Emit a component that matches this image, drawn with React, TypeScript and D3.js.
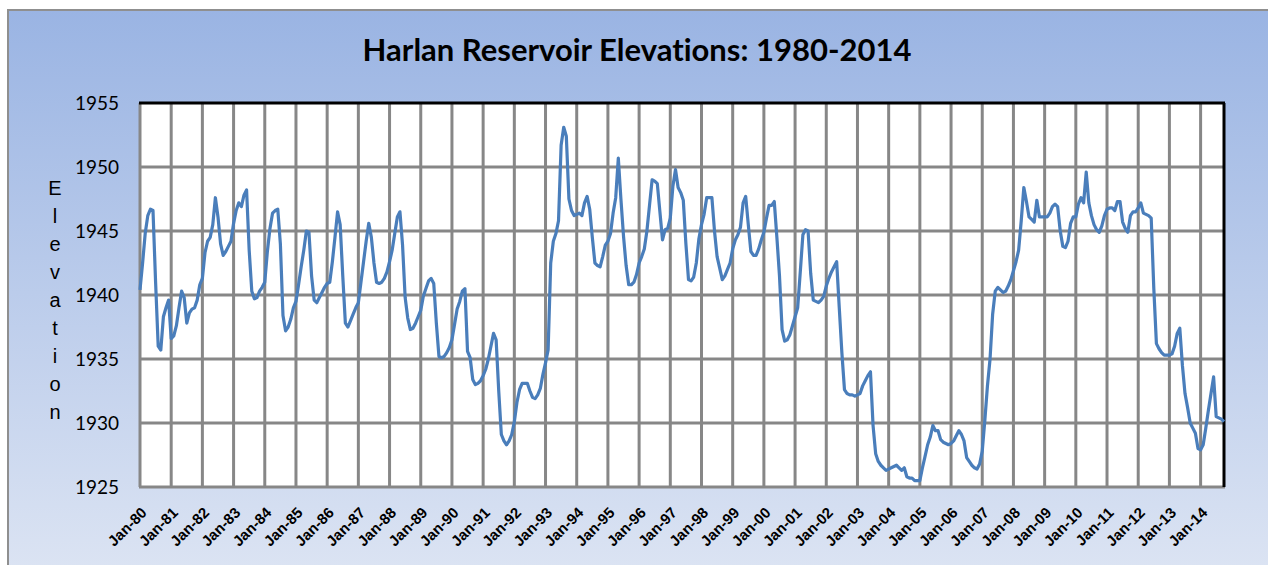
import { useEffect } from 'react';
import * as d3 from 'd3';

// monthly elevations (ft), Jan of first year through the last reading
const elev1980s = [
  1940.4, 1942.5, 1944.8, 1946.2, 1946.7, 1946.6, 1941.0, 1936.0, 1935.7, 1938.3, 1939.0, 1939.6,
  1936.6, 1936.8, 1937.6, 1939.0, 1940.3, 1939.8, 1937.8, 1938.6, 1938.9, 1939.0, 1939.6, 1940.8,
  1941.3, 1943.3, 1944.2, 1944.5, 1945.5, 1947.6, 1946.1, 1944.0, 1943.1, 1943.4, 1943.8, 1944.2,
  1945.6, 1946.6, 1947.2, 1946.9, 1947.8, 1948.2, 1943.5, 1940.3, 1939.7, 1939.8, 1940.3, 1940.6,
  1941.0, 1943.4, 1945.2, 1946.4, 1946.6, 1946.7, 1944.0, 1938.4, 1937.2, 1937.5, 1938.1, 1939.0,
  1939.5, 1940.8, 1942.2, 1943.5, 1945.0, 1944.9, 1941.5, 1939.6, 1939.4, 1939.8, 1940.2, 1940.6,
  1940.9, 1941.0, 1942.6, 1944.5, 1946.5, 1945.5, 1941.5, 1937.8, 1937.5, 1938.0, 1938.5, 1939.0,
  1939.4, 1941.0, 1942.6, 1944.2, 1945.6, 1944.5, 1942.5, 1941.0, 1940.9, 1941.0, 1941.3, 1941.8,
  1942.6, 1943.5, 1944.8, 1946.1, 1946.5, 1943.9, 1939.8, 1938.2, 1937.3, 1937.4, 1937.8, 1938.3,
  1938.8, 1939.9, 1940.5, 1941.1, 1941.3, 1940.9, 1937.8, 1935.2, 1935.1, 1935.2, 1935.5, 1935.9,
];

const elev1990s = [
  1936.5, 1937.7, 1938.9, 1939.5, 1940.3, 1940.5, 1935.6, 1935.1, 1933.4, 1933.0, 1933.1, 1933.3,
  1933.7, 1934.2, 1935.0, 1936.0, 1937.0, 1936.5, 1932.5, 1929.1, 1928.6, 1928.3, 1928.6, 1929.1,
  1930.1, 1931.6, 1932.6, 1933.1, 1933.1, 1933.1, 1932.5, 1932.0, 1931.9, 1932.2, 1932.7, 1933.8,
  1934.7, 1935.7, 1942.5, 1944.2, 1944.8, 1945.8, 1951.7, 1953.1, 1952.4, 1947.5, 1946.6, 1946.2,
  1946.3, 1946.4, 1946.2, 1947.2, 1947.7, 1946.7, 1944.5, 1942.5, 1942.3, 1942.2, 1943.0, 1943.9,
  1944.2, 1944.8, 1946.4, 1947.6, 1950.7, 1947.5, 1944.6, 1942.3, 1940.8, 1940.8, 1941.0, 1941.6,
  1942.5, 1943.0, 1943.6, 1945.0, 1947.0, 1949.0, 1948.9, 1948.7, 1946.5, 1944.3, 1945.1, 1945.2,
  1946.0, 1948.5, 1949.8, 1948.4, 1948.0, 1947.4, 1944.0, 1941.2, 1941.1, 1941.4, 1942.5, 1944.4,
  1945.5, 1946.3, 1947.6, 1947.6, 1947.6, 1945.0, 1943.0, 1942.1, 1941.2, 1941.5, 1942.0, 1942.5,
  1943.6, 1944.3, 1944.7, 1945.3, 1947.2, 1947.7, 1945.5, 1943.4, 1943.1, 1943.1, 1943.6, 1944.3,
];

const elev2000s = [
  1944.9, 1946.0, 1947.0, 1947.0, 1947.3, 1944.5, 1941.5, 1937.3, 1936.4, 1936.5, 1936.9, 1937.6,
  1938.3, 1939.0, 1941.8, 1944.7, 1945.1, 1945.0, 1941.7, 1939.6, 1939.5, 1939.4, 1939.6, 1939.9,
  1940.7, 1941.3, 1941.8, 1942.2, 1942.6, 1939.0, 1935.5, 1932.6, 1932.3, 1932.2, 1932.2, 1932.1,
  1932.2, 1932.3, 1932.9, 1933.3, 1933.7, 1934.0, 1929.8, 1927.6, 1927.0, 1926.7, 1926.5, 1926.3,
  1926.4, 1926.5, 1926.6, 1926.7, 1926.5, 1926.3, 1926.5, 1925.8, 1925.7, 1925.7, 1925.5, 1925.5,
  1925.5, 1926.5, 1927.4, 1928.3, 1928.9, 1929.8, 1929.4, 1929.4, 1928.7, 1928.5, 1928.4, 1928.3,
  1928.4, 1928.6, 1929.0, 1929.4, 1929.1, 1928.6, 1927.3, 1927.0, 1926.7, 1926.5, 1926.4, 1926.8,
  1927.8, 1930.2, 1932.9, 1935.0, 1938.5, 1940.3, 1940.6, 1940.4, 1940.2, 1940.3, 1940.7, 1941.2,
  1941.9, 1942.6, 1943.5, 1945.8, 1948.4, 1947.3, 1946.1, 1945.9, 1945.7, 1947.4, 1946.1, 1946.1,
  1946.1, 1946.1, 1946.4, 1946.9, 1947.1, 1946.9, 1945.0, 1943.8, 1943.7, 1944.2, 1945.6, 1946.1,
];

const elev2010s = [
  1946.1, 1947.1, 1947.6, 1947.2, 1949.6, 1947.2, 1946.2, 1945.5, 1945.1, 1944.9, 1945.4, 1946.2,
  1946.7, 1946.8, 1946.8, 1946.6, 1947.3, 1947.3, 1945.7, 1945.2, 1944.9, 1946.2, 1946.5, 1946.5,
  1946.8, 1947.2, 1946.4, 1946.3, 1946.2, 1946.0, 1940.5, 1936.2, 1935.8, 1935.5, 1935.3, 1935.3,
  1935.3, 1935.4, 1936.0, 1937.0, 1937.4, 1934.5, 1932.3, 1931.2, 1930.0, 1929.6, 1929.2, 1928.0,
  1927.9, 1928.3, 1929.6, 1931.0, 1932.3, 1933.6, 1930.5, 1930.4, 1930.3, 1930.1,
];

const yearLabels = [
  'Jan-80', 'Jan-81', 'Jan-82', 'Jan-83', 'Jan-84', 'Jan-85', 'Jan-86', 'Jan-87', 'Jan-88', 'Jan-89',
  'Jan-90', 'Jan-91', 'Jan-92', 'Jan-93', 'Jan-94', 'Jan-95', 'Jan-96', 'Jan-97', 'Jan-98', 'Jan-99',
  'Jan-00', 'Jan-01', 'Jan-02', 'Jan-03', 'Jan-04', 'Jan-05', 'Jan-06', 'Jan-07', 'Jan-08', 'Jan-09',
  'Jan-10', 'Jan-11', 'Jan-12', 'Jan-13', 'Jan-14',
];

const yTicks = [1925, 1930, 1935, 1940, 1945, 1950, 1955];
const axisTitle = 'Elevation';

const W = 1268;
const H = 565;
const plot = { left: 140, right: 1224, top: 103, bottom: 487 };
const gridColor = '#878787';

export default function App() {
  useEffect(() => {
    document.body.style.margin = '0';
  }, []);

  const values = [...elev1980s, ...elev1990s, ...elev2000s, ...elev2010s];
  const x = d3.scaleLinear().domain([0, values.length - 1]).range([plot.left, plot.right]);
  const y = d3.scaleLinear().domain([1925, 1955]).range([plot.bottom, plot.top]);
  const line = d3.line<number>().x((_, i) => x(i)).y((d) => y(d));

  return (
    <svg width={W} height={H} style={{ display: 'block' }}>
      <defs>
        <linearGradient id="bg" x1="0" y1="0" x2="0" y2="1">
          <stop offset="0%" stopColor="#9ab4e3" />
          <stop offset="100%" stopColor="#dce4f3" />
        </linearGradient>
      </defs>
      <rect x={0} y={0} width={W} height={H} fill="#ffffff" />
      <rect x={8} y={10} width={W} height={H} fill="url(#bg)" stroke="#8f8f8f" strokeWidth={2} />

      <text
        x={637}
        y={61}
        textAnchor="middle"
        fontFamily="Lato, 'Liberation Sans', sans-serif"
        fontWeight="bold"
        fontSize={31}
        fill="#000"
        style={{ fontVariantLigatures: 'none' }}
      >
        Harlan Reservoir Elevations: 1980-2014
      </text>

      <rect
        x={plot.left}
        y={plot.top}
        width={plot.right - plot.left}
        height={plot.bottom - plot.top}
        fill="#ffffff"
      />

      {/* horizontal grid */}
      {yTicks.slice(1, -1).map((t) => (
        <line key={t} x1={plot.left} x2={plot.right} y1={y(t)} y2={y(t)} stroke={gridColor} strokeWidth={3} />
      ))}

      {/* one vertical line each January */}
      {yearLabels.map((lab, i) => (
        <line key={lab} x1={x(i * 12)} x2={x(i * 12)} y1={plot.top} y2={plot.bottom} stroke={gridColor} strokeWidth={3} />
      ))}

      <line x1={plot.left - 1} x2={plot.right + 1} y1={plot.bottom} y2={plot.bottom} stroke={gridColor} strokeWidth={3} />
      <line x1={plot.left - 1} x2={plot.right + 1} y1={plot.top} y2={plot.top} stroke="#000" strokeWidth={3} />
      <line x1={plot.right} x2={plot.right} y1={plot.top} y2={plot.bottom} stroke="#000" strokeWidth={3} />

      <path d={line(values) ?? ''} fill="none" stroke="#4a7ebb" strokeWidth={3.2} strokeLinejoin="round" />

      {/* y tick labels */}
      {yTicks.map((t) => (
        <text
          key={t}
          x={119}
          y={y(t)}
          dy="0.35em"
          textAnchor="end"
          fontFamily="Lato, 'Liberation Sans', sans-serif"
          fontSize={19}
          fill="#000"
        >
          {t}
        </text>
      ))}

      {/* x tick labels */}
      {yearLabels.map((lab, i) => (
        <text
          key={lab}
          transform={`translate(${x(i * 12) + 4},${510}) rotate(-45)`}
          dy="0.35em"
          textAnchor="end"
          fontFamily="'Liberation Sans', sans-serif"
          fontWeight="bold"
          fontSize={15}
          fill="#000"
        >
          {lab}
        </text>
      ))}

      {/* stacked axis title */}
      {axisTitle.split('').map((ch, i) => (
        <text
          key={i}
          x={55}
          y={188 + i * 28}
          dy="0.35em"
          textAnchor="middle"
          fontFamily="'Liberation Sans', sans-serif"
          fontSize={20}
          fill="#000"
        >
          {ch}
        </text>
      ))}
    </svg>
  );
}
